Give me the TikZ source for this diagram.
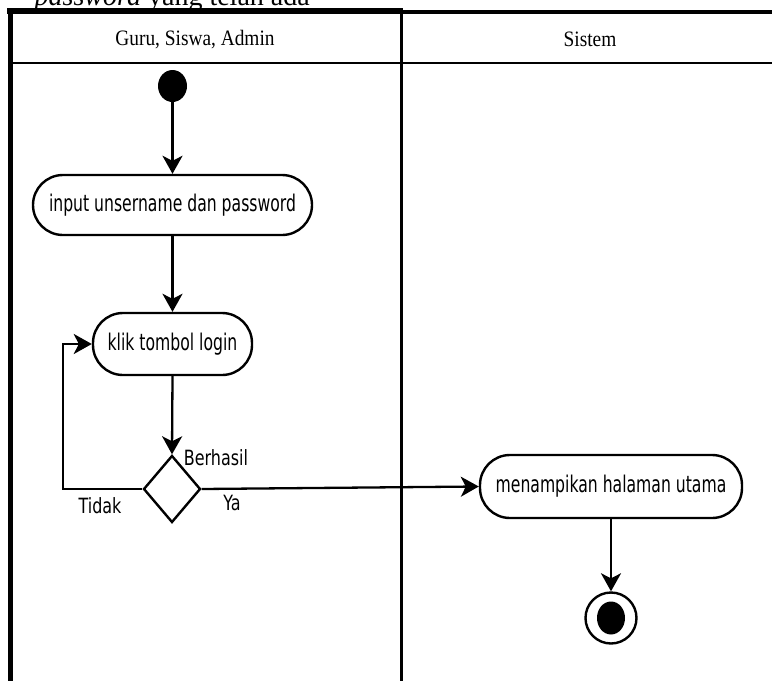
\documentclass[tikz,border=0pt]{standalone}
\usepackage{fontspec}
\setmainfont{Liberation Serif}
\newfontfamily\actfont{DejaVu Sans}
\usetikzlibrary{arrows.meta,shapes.geometric}
% narrow sans text used inside the activity nodes
\newcommand{\acttext}[1]{\scalebox{0.68}[1]{\fontsize{23}{27}\selectfont\actfont #1}}
\newcommand{\guardtext}[1]{\scalebox{0.76}[1]{\fontsize{21}{25}\selectfont\actfont #1}}
\newcommand{\headtext}[1]{\scalebox{0.88}[1]{\fontsize{22}{26}\selectfont #1}}

\tikzset{
  act/.style={draw, line width=2.4pt, rounded corners=30pt, inner sep=0pt, fill=white},
  flow/.style={line width=2.3pt, -{Stealth[length=18pt, width=20pt, inset=5pt]}},
  lane/.style={line width=3pt},
}

\begin{document}
\begin{tikzpicture}[x=1pt, y=-1pt]
\useasboundingbox (0,0) rectangle (772,681);
\fill[white] (0,0) rectangle (772,681);

% caption line above the diagram, partly cut off by the page edge
\begin{scope}
\clip (0,0) rectangle (772,681);
\node[anchor=base east, inner sep=0pt] (caption) at (310,5)
  {\fontsize{28}{32}\selectfont\textit{password} yang telah ada};
\end{scope}

% swimlane frame
\draw[line width=6pt] (7,11) -- (401,11);
\draw[line width=4pt] (401,12) -- (772,12);
\draw[line width=5pt] (10,8) -- (10,681);
\draw[lane] (401.5,8) -- (401.5,681);
\draw[line width=2.5pt] (12,63) -- (772,63);

% lane headers
\node[anchor=base, inner sep=0pt] (lane1) at (195,45) {\headtext{Guru, Siswa, Admin}};
\node[anchor=base, inner sep=0pt] (lane2) at (590,46) {\headtext{Sistem}};

% activity nodes
\node[ellipse, fill=black, minimum width=29pt, minimum height=32pt, inner sep=0pt] (start) at (172.5,86) {};
\node[act, minimum width=279pt, minimum height=60pt] (input) at (172.5,205) {\acttext{input unsername dan password}};
\node[act, minimum width=159pt, minimum height=62pt] (klik) at (172.5,344) {\acttext{klik tombol login}};
\node[diamond, draw, line width=2.4pt, minimum width=57pt, minimum height=67pt, inner sep=0pt, fill=white] (dec) at (172,489) {};
\node[act, minimum width=262pt, minimum height=63pt] (tampil) at (611,486.5) {\acttext{menampikan halaman utama}};
\node[circle, draw, line width=2.4pt, minimum size=51pt, inner sep=0pt] (end) at (611,618) {};
\node[ellipse, fill=black, minimum width=28pt, minimum height=33pt, inner sep=0pt] (endin) at (611,618) {};

% guard labels
\node[inner sep=0pt] (lbBerhasil) at (216,458) {\guardtext{Berhasil}};
\node[inner sep=0pt] (lbTidak) at (100,506) {\guardtext{Tidak}};
\node[inner sep=0pt] (lbYa) at (232,503) {\guardtext{Ya}};

% control flow
\coordinate (loop) at (63,489);
\draw[flow] (start.south) -- (input.north);
\draw[flow] (input.south) -- (klik.north);
\draw[flow] (klik.south) -- (dec.north);
\draw[flow] (dec.west) -- (loop) |- (klik.west);
\draw[flow] (dec.east) -- (tampil.west);
\draw[flow] (tampil.south) -- (end.north);
\end{tikzpicture}
\end{document}
